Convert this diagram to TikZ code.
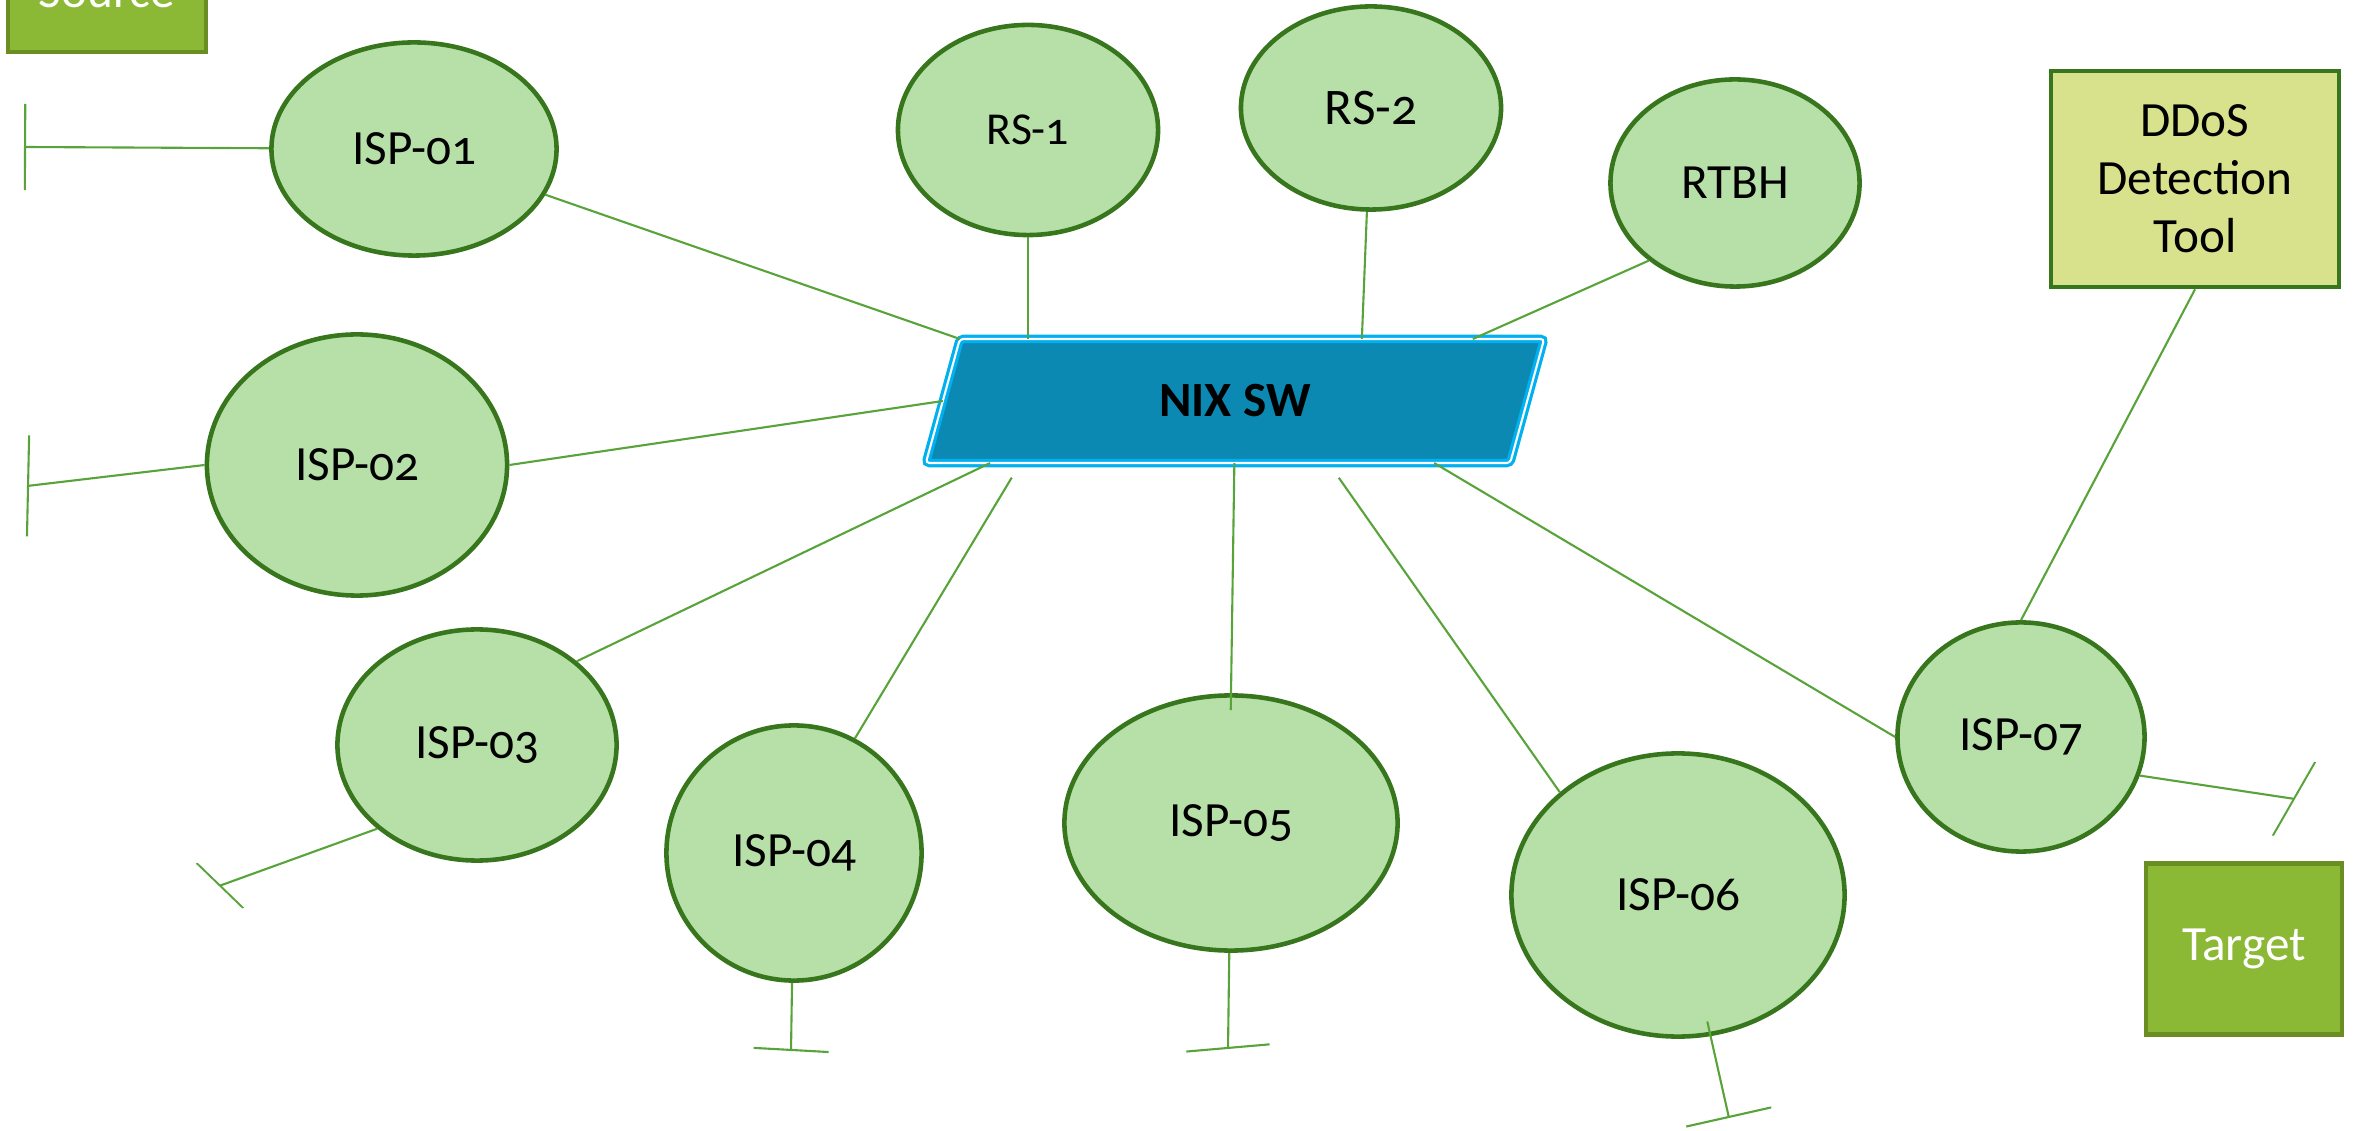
\documentclass[tikz,border=0pt]{standalone}
\usepackage{fontspec}
\setmainfont[Numbers=OldStyle]{Carlito}
\definecolor{ispfill}{RGB}{183,224,169}
\definecolor{ispline}{RGB}{56,118,29}
\definecolor{linkgreen}{RGB}{88,163,58}
\definecolor{nixfill}{RGB}{11,137,178}
\definecolor{nixline}{RGB}{0,176,240}
\definecolor{ddosfill}{RGB}{216,226,141}
\definecolor{endfill}{RGB}{139,184,53}
\definecolor{endline}{RGB}{107,142,35}
\usetikzlibrary{shapes.geometric, arrows.meta, calc, backgrounds}

\begin{document}
\begin{tikzpicture}[x=0.01cm, y=-0.01cm,
  isp/.style={ellipse, draw=ispline, fill=ispfill, line width=1.3pt, inner sep=0pt, font=\fontsize{14}{17}\selectfont},
  endbox/.style={draw=endline, fill=endfill, line width=1.3pt, text=white, inner sep=0pt, font=\fontsize{14}{17}\selectfont},
  nixbox/.style={fill=nixfill, draw=nixline, double=white, line width=0.9pt, double distance=0.6pt, rounded corners=1pt},
  link/.style={draw=linkgreen, line width=0.6pt},
  stub/.style 2 args={link, -{Bar[width=#1, slant=#2]}}
]
  \useasboundingbox (0,0) rectangle (2354,1131);

  \node[endbox, minimum width=1.98cm, minimum height=1.2cm] (source) at (107,-8) {Source};
  \node[endbox, minimum width=1.96cm, minimum height=1.71cm] (target) at (2244,949) {Target};
  \node[draw=ispline, fill=ddosfill, line width=1.3pt, align=center, minimum width=2.88cm, minimum height=2.16cm,
        font=\fontsize{14}{16.5}\selectfont] (ddos) at (2195,179) {DDoS\\Detection\\Tool};

  \node[minimum width=5.84cm, minimum height=1.24cm, inner sep=0pt, outer sep=0pt,
        font=\bfseries\fontsize{14}{17}\selectfont] (nix) at (1235,401) {NIX SW};
  \coordinate (ntl) at ($(nix.north west)+(17,0)$);
  \coordinate (ntr) at ($(nix.north east)+(17,0)$);
  \coordinate (nbr) at ($(nix.south east)+(-17,0)$);
  \coordinate (nbl) at ($(nix.south west)+(-17,0)$);
  \begin{scope}[on background layer]
    \draw[nixbox] (ntl) -- (ntr) -- (nbr) -- (nbl) -- cycle;
  \end{scope}

  \node[isp, minimum width=2.85cm, minimum height=2.13cm] (isp1) at (414,149) {ISP-01};
  \node[isp, minimum width=3.00cm, minimum height=2.61cm] (isp2) at (357,465) {ISP-02};
  \node[isp, minimum width=2.79cm, minimum height=2.31cm] (isp3) at (477,745) {ISP-03};
  \node[isp, minimum width=2.55cm, minimum height=2.55cm] (isp4) at (794,853) {ISP-04};
  \node[isp, minimum width=3.33cm, minimum height=2.55cm] (isp5) at (1231,823) {ISP-05};
  \node[isp, minimum width=3.33cm, minimum height=2.83cm] (isp6) at (1678,895) {ISP-06};
  \node[isp, minimum width=2.47cm, minimum height=2.29cm] (isp7) at (2021,737) {ISP-07};
  \node[isp, minimum width=2.60cm, minimum height=2.10cm, font=\fontsize{13}{16}\selectfont] (rs1) at (1028,130) {RS-1};
  \node[isp, minimum width=2.60cm, minimum height=2.03cm, font=\fontsize{14.6}{17}\selectfont] (rs2) at (1371,108) {RS-2};
  \node[isp, minimum width=2.49cm, minimum height=2.07cm] (rtbh) at (1735,183) {RTBH};

  \draw[link] (isp1) -- (ntl);
  \draw[link] (rs1) -- (rs1 |- ntl);
  \draw[link] (rs2) -- ($(ntl)!0.688!(ntr)$);
  \draw[link] (rtbh.222) -- ($(ntl)!0.878!(ntr)$);
  \draw[link] (isp2.east) -- ($(ntl)!0.5!(nbl)$);
  \draw[link] (isp3.40) -- ($(nbl)!0.11!(nbr)$);
  \draw[link, shorten >=0.17cm] (isp4.62) -- ($(nbl)!0.162!(nbr)$);
  \draw[link, shorten <=-0.17cm] (isp5.north) -- ($(nbl)!0.528!(nbr)$);
  \draw[link, shorten >=0.18cm] (isp6.139) -- ($(nbl)!0.689!(nbr)$);
  \draw[link] (isp7.west) -- ($(nbl)!0.87!(nbr)$);
  \draw[link] (isp7.north) -- (ddos.south);

  \coordinate (e1) at (24,147);
  \coordinate (e2) at (27,486);
  \coordinate (e3) at (219,886);
  \coordinate (e4) at (791,1051);
  \coordinate (e5) at (1228,1049);
  \coordinate (e6) at (1729,1118);
  \coordinate (e7) at (2295,799);
  \draw[stub={0.86cm}{0}] (isp1) -- (e1);
  \draw[stub={1.0cm}{0.14}] (isp2.west) -- (e2);
  \draw[stub={0.58cm}{-0.49}] (isp3.220) -- (e3);
  \draw[stub={0.75cm}{0.04}] (isp4) -- (e4);
  \draw[stub={0.83cm}{-0.1}] (isp5) -- (e5);
  \draw[stub={0.87cm}{0}, shorten <=-0.15cm] (isp6.283) -- (e6);
  \draw[stub={0.79cm}{0.39}] (isp7.-18) -- (e7);
\end{tikzpicture}
\end{document}
